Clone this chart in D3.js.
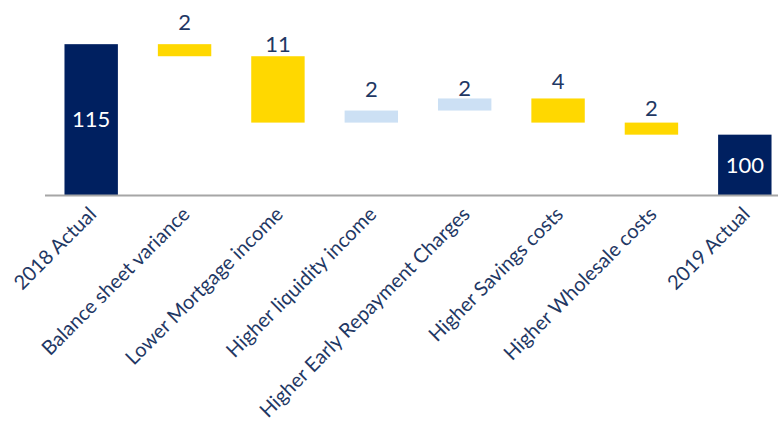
<!DOCTYPE html>
<html>
<head>
<meta charset="utf-8">
<script src="https://cdn.jsdelivr.net/npm/d3@7"></script>
<style>
  body { margin: 0; background: #fff; }
  text { font-family: Lato, "Open Sans", sans-serif; }
</style>
</head>
<body>
<div id="vis"></div>
<script>
var categories = ['2018 Actual', 'Balance sheet variance', 'Lower Mortgage income',
  'Higher liquidity income', 'Higher Early Repayment Charges', 'Higher Savings costs',
  'Higher Wholesale costs', '2019 Actual'];
// totals are absolute, the rest are changes
var values = [115, -2, -11, 2, 2, -4, -2, 100];
var kinds  = ['total', 'neg', 'neg', 'pos', 'pos', 'neg', 'neg', 'total'];
// level (in chart units) where each floating label sits
var labelLevels = [null, 118.6, 114.9, 107.6, 107.7, 108.9, 104.3, null];

var width  = 778;
var height = 421;

var colors = { total: '#002060', neg: '#FFD800', pos: '#CCE0F4' };
var textColor = '#1F3864';

// build the floating bars
var running = 0;
var bars = categories.map(function(c, i){
  var v = values[i], lo, hi;
  if (kinds[i] === 'total') {
    lo = 90; hi = v; running = v;
  } else {
    lo = Math.min(running, running + v);
    hi = Math.max(running, running + v);
    running += v;
  }
  return { cat: c, value: v, kind: kinds[i], lo: lo, hi: hi, labelAt: labelLevels[i] };
});

var svg = d3.select('#vis')
  .append('svg')
  .attr('width', width)
  .attr('height', height)
  .style('display', 'block');

var xScale = d3.scaleBand()
  .domain(categories)
  .range([44.5, 791.5])
  .paddingInner(0.428)
  .paddingOuter(0.214);

var yScale = d3.scaleLinear()
  .domain([90, 120])
  .range([195, 14]);

svg.selectAll('rect.bar')
  .data(bars)
  .enter().append('rect')
  .attr('class', 'bar')
  .attr('x', function(d){ return xScale(d.cat); })
  .attr('width', xScale.bandwidth())
  .attr('y', function(d){ return yScale(d.hi); })
  .attr('height', function(d){ return yScale(d.lo) - yScale(d.hi); })
  .attr('fill', function(d){ return colors[d.kind]; });

// axis
var xAxis = d3.axisBottom(xScale).tickSize(0).tickSizeOuter(0);
var axisG = svg.append('g')
  .attr('transform', 'translate(0,' + yScale(90) + ')')
  .call(xAxis);
axisG.select('.domain')
  .attr('stroke', '#A6A6A6')
  .attr('stroke-width', 2);
axisG.selectAll('text')
  .attr('x', -10)
  .attr('y', 12)
  .attr('dy', '0.35em')
  .attr('transform', 'rotate(-45)')
  .style('text-anchor', 'end')
  .style('font-size', '20px')
  .style('font-family', 'Lato, "Open Sans", sans-serif')
  .attr('fill', textColor);

// value labels
svg.selectAll('text.val')
  .data(bars)
  .enter().append('text')
  .attr('class', 'val')
  .attr('x', function(d){ return xScale(d.cat) + xScale.bandwidth() / 2; })
  .attr('y', function(d){
    return d.kind === 'total' ? yScale((d.lo + d.hi) / 2) : yScale(d.labelAt);
  })
  .attr('dy', '0.35em')
  .attr('text-anchor', 'middle')
  .style('font-size', '22px')
  .attr('fill', function(d){ return d.kind === 'total' ? '#fff' : textColor; })
  .text(function(d){ return Math.abs(d.value); });
</script>
</body>
</html>
